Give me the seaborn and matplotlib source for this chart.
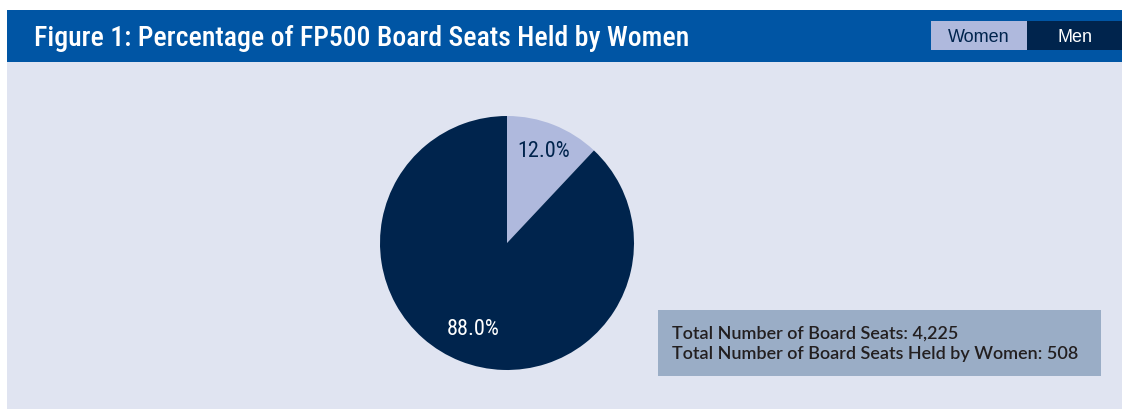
import matplotlib
matplotlib.use("Agg")
import numpy as np
import seaborn as sns
import matplotlib.pyplot as plt
from matplotlib.patches import Rectangle

# chart data
groups = ["Women", "Men"]
shares = [12.0, 88.0]
total_seats = 4225
women_seats = 508
title = "Figure 1: Percentage of FP500 Board Seats Held by Women"

header_col = "#0055A4"
panel_col = "#E0E4F1"
women_col = "#AFB9DD"
men_col = "#00244D"
info_col = "#9AADC6"
dark_txt = "#231F20"

sns.set_theme(style="white")
narrow = ["Roboto Condensed", "Liberation Sans Narrow", "Roboto", "DejaVu Sans"]
plt.rcParams["font.family"] = narrow

W, H = 1122, 410
fig = plt.figure(figsize=(W / 100, H / 100), dpi=100)
fig.patch.set_facecolor("white")


def px_rect(x0, y0, x1, y1, color):
    """add a rectangle given in pixel coords measured from top-left"""
    fig.patches.append(Rectangle((x0 / W, 1 - y1 / H), (x1 - x0) / W, (y1 - y0) / H,
                                 transform=fig.transFigure, facecolor=color,
                                 edgecolor="none", zorder=-5))


# background bands
px_rect(7, 63, W, H, panel_col)
px_rect(7, 11, W, 63, header_col)
fig.text(34 / W, 1 - 38 / H, title, color="white", fontsize=20, weight="medium",
         va="center", ha="left", family=narrow)

# legend boxes in header
px_rect(931, 22, 1027, 51, women_col)
px_rect(1027, 22, W, 51, men_col)
fig.text(979 / W, 1 - 37 / H, groups[0], color=men_col, fontsize=13,
         ha="center", va="center", family=["Liberation Sans", "DejaVu Sans"])
fig.text(1075 / W, 1 - 37 / H, groups[1], color="white", fontsize=13,
         ha="center", va="center", family=["Liberation Sans", "DejaVu Sans"])

# pie
cx, cy, r = 507, 244, 127
ax = fig.add_axes([(cx - r) / W, 1 - (cy + r) / H, 2 * r / W, 2 * r / H])
ax.set_zorder(2)
wedges, texts, autotexts = ax.pie(shares, colors=[women_col, men_col], startangle=90,
                                  counterclock=False, autopct="%.1f%%", pctdistance=0.78,
                                  wedgeprops=dict(linewidth=0),
                                  textprops=dict(fontsize=16))
autotexts[0].set_color(men_col)
autotexts[1].set_color("white")
# the men label sits a bit closer to the centre
w = wedges[1]
mid = np.deg2rad((w.theta1 + w.theta2) / 2)
autotexts[1].set_position((0.72 * np.cos(mid), 0.72 * np.sin(mid)))
ax.set_xlim(-1, 1)
ax.set_ylim(-1, 1)
ax.set_aspect("auto")
ax.axis("off")

# info box
px_rect(658, 311, 1101, 377, info_col)
info_txt = (f"Total Number of Board Seats: {total_seats:,}\n"
            f"Total Number of Board Seats Held by Women: {women_seats}")
fig.text(672 / W, 1 - 344 / H, info_txt, color=dark_txt, fontsize=13,
         ha="left", va="center", linespacing=1.35, weight="semibold",
         family=["Lato", "DejaVu Sans"])

fig.savefig("out.png", dpi=100, facecolor=fig.get_facecolor())
